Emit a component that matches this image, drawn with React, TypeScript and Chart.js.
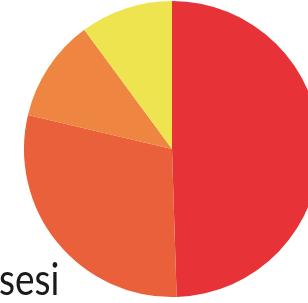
import React, { useEffect, useRef } from "react";
import { Chart, registerables } from "chart.js";

Chart.register(...registerables);

const labels = ["A", "B", "C", "D"];
const values = [49.5, 29.2, 11.2, 10.1];
const colors = ["#E73338", "#E9603A", "#EE8540", "#EEE450"];
const caption = "sesi";

const captionPlugin = {
  id: "caption",
  afterDraw(chart: any) {
    const ctx = chart.ctx;
    ctx.save();
    ctx.fillStyle = "#1a1a1a";
    ctx.font = "37px 'Lato', 'DejaVu Sans', sans-serif";
    ctx.textBaseline = "alphabetic";
    ctx.textAlign = "left";
    ctx.translate(0, 295);
    ctx.scale(1, 1.18);
    ctx.fillText(caption, -1, 0);
    ctx.restore();
  },
};

export default function App() {
  const ref = useRef<HTMLCanvasElement>(null);
  useEffect(() => {
    if (!ref.current) return;
    const chart = new Chart(ref.current, {
      type: "pie",
      data: {
        labels,
        datasets: [
          {
            data: values,
            backgroundColor: colors,
            borderWidth: 0,
          },
        ],
      },
      options: {
        responsive: false,
        animation: false,
        layout: { padding: { left: 24, right: 14, top: 1, bottom: 6 } },
        plugins: {
          legend: { display: false },
          tooltip: { enabled: false },
          title: { display: false },
        },
      },
      plugins: [captionPlugin],
    });
    return () => chart.destroy();
  }, []);
  return (
    <div style={{ position: "fixed", left: 0, top: 0, width: 308, height: 303, overflow: "hidden", background: "#fff" }}>
      <canvas ref={ref} width={334} height={303} style={{ display: "block" }} />
    </div>
  );
}
